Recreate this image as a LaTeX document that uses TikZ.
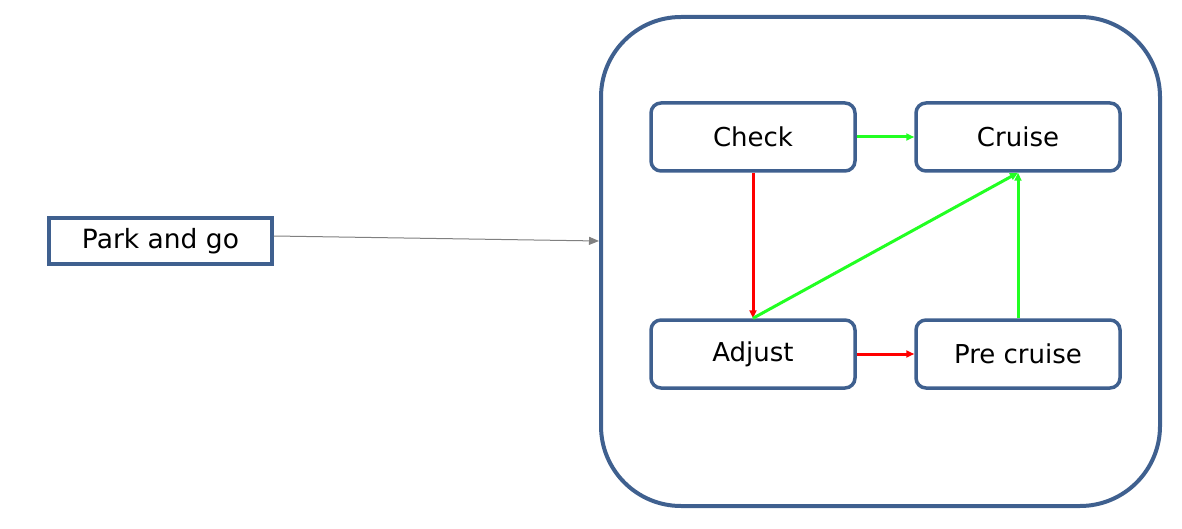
\documentclass[tikz,border=0pt]{standalone}
\usepackage{fontspec}
\setmainfont{DejaVu Sans}
\usetikzlibrary{arrows.meta}
\definecolor{bord}{RGB}{63,96,143}
\definecolor{grn}{RGB}{34,255,34}
\definecolor{rd}{RGB}{255,0,0}
\definecolor{gry}{RGB}{128,128,128}
\tikzset{
  statebox/.style={draw=bord, line width=3.5pt, rounded corners=10pt, fill=white,
    minimum width=204pt, minimum height=68pt, inner sep=0pt, font=\fontsize{26}{31}\selectfont},
  parkbox/.style={draw=bord, line width=3.5pt, fill=white,
    minimum width=223pt, minimum height=46pt, inner sep=0pt, font=\fontsize{26.5}{31}\selectfont},
  container/.style={draw=bord, line width=4pt, rounded corners=80pt,
    minimum width=559pt, minimum height=489pt, inner sep=0pt},
  garrow/.style={draw=grn, line width=3pt, -{Triangle[length=8pt,width=7pt]}},
  rarrow/.style={draw=rd, line width=3pt, -{Triangle[length=8pt,width=7pt]}},
  thinarrow/.style={draw=gry, line width=1pt, -{Triangle[length=10pt,width=8pt]}}
}
\begin{document}
\begin{tikzpicture}[x=1pt,y=-1pt]
\useasboundingbox (0,0) rectangle (1182,529);
\node[container] (cont) at (880.5,261.5) {};
\node[parkbox] (park) at (160.5,241) {Park and go};
\node[statebox] (check) at (753,137) {Check};
\node[statebox] (cruise) at (1018,137) {Cruise};
\node[statebox] (adjust) at (753,354) {Adjust};
\node[statebox] (pre) at (1018,354) {Pre cruise};
\draw[thinarrow] ([yshift=5pt]park.east) -- ([yshift=20.5pt]cont.west);
\draw[garrow] (check.east) -- (cruise.west);
\draw[rarrow] (check.south) -- (adjust.north);
\draw[rarrow] (adjust.east) -- (pre.west);
\draw[garrow] (pre.north) -- (cruise.south);
\draw[garrow] (adjust.north) -- (cruise.south);
\end{tikzpicture}
\end{document}
